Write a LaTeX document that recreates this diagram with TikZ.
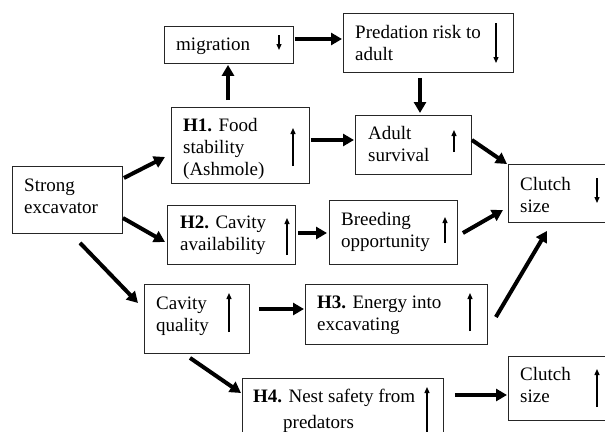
\documentclass[tikz,border=0pt]{standalone}
\usepackage{fontspec}
\setmainfont{Liberation Serif}
\usetikzlibrary{arrows.meta,calc}
\begin{document}
\begin{tikzpicture}[x=1pt,y=-1pt,
  box/.style={draw=black!85,line width=0.9pt,rectangle,inner sep=0pt,anchor=north west},
  txt/.style={inner sep=0pt,anchor=base west,align=left,font=\fontsize{19}{22}\selectfont},
  conn/.style={line width=4pt,-{Triangle[length=11pt,width=12pt]}},
  tinyarr/.style={line width=1.3pt,-{Triangle[length=6pt,width=5pt]}}]
\useasboundingbox (0,0) rectangle (605,431);
% boxes
\node[box,minimum width=110pt,minimum height=67pt] (strong) at (12,166) {};
\node[box,minimum width=129pt,minimum height=37pt] (migr) at (164,26) {};
\node[box,minimum width=170pt,minimum height=59pt] (pred) at (343,13) {};
\node[box,minimum width=138pt,minimum height=76pt] (h1) at (171,107) {};
\node[box,minimum width=116pt,minimum height=59pt] (adult) at (355,115) {};
\node[box,minimum width=120pt,minimum height=58pt] (clA) at (508,164) {};
\node[box,minimum width=128pt,minimum height=59pt] (h2) at (167,205) {};
\node[box,minimum width=128pt,minimum height=64pt] (breed) at (329,200) {};
\node[box,minimum width=105pt,minimum height=69pt] (cavq) at (144,284) {};
\node[box,minimum width=182pt,minimum height=60pt] (h3) at (305,284) {};
\node[box,minimum width=201pt,minimum height=80pt] (h4) at (242,378) {};
\node[box,minimum width=120pt,minimum height=64pt] (clB) at (508,356) {};
% texts (anchor = baseline of the last line)
\node[txt] (strong-t) at (24,213) {Strong\\excavator};
\node[txt] (migr-t) at (176,50) {migration};
\node[txt] (pred-t) at (355,60) {Predation risk to\\adult};
\node[txt] (h1-t) at (183,175) {\textbf{H1.} Food\\stability\\(Ashmole)};
\node[txt] (adult-t) at (368,161) {Adult\\survival};
\node[txt] (clA-t) at (520,212) {Clutch\\size};
\node[txt] (h2-t) at (180,250) {\textbf{H2.} Cavity\\availability};
\node[txt] (breed-t) at (341,247) {Breeding\\opportunity};
\node[txt] (cavq-t) at (156,331) {Cavity\\quality};
\node[txt] (h3-t) at (317,330) {\textbf{H3.} Energy into\\excavating};
\node[txt] (h4-t) at (253,428) {\textbf{H4.} Nest safety from\\[4pt]\hspace*{30pt}predators};
\node[txt] (clB-t) at (520,402) {Clutch\\size};
% small trend arrows
\draw[tinyarr] (279,35) -- (279,50);
\draw[tinyarr] (293,166) -- (293,128);
\draw[tinyarr] (496,23) -- (496,63);
\draw[tinyarr] (454,152) -- (454,130);
\draw[tinyarr] (597,178) -- (597,203);
\draw[tinyarr] (287,255) -- (287,218);
\draw[tinyarr] (445,243) -- (445,217);
\draw[tinyarr] (229,332) -- (229,293);
\draw[tinyarr] (470,331) -- (470,293);
\draw[tinyarr] (427,440) -- (427,387);
\draw[tinyarr] (597,407) -- (597,369);
% connectors
\draw[conn] ($(strong.north east)+(1,12)$) -- ($(h1.north west)+(-6,50)$);
\draw[conn] ($(strong.north east)+(0,52)$) -- ($(h2.north west)+(-2,37)$);
\draw[conn] ($(strong.south west)+(68,9)$) -- ($(cavq.north west)+(-6,19)$);
\draw[conn] ($(h1.north west)+(57,-7)$) -- ($(migr.south west)+(64,1)$);
\draw[conn] ($(migr.north east)+(1,13)$) -- ($(pred.north west)+(-1,26)$);
\draw[conn] ($(pred.south west)+(77,5)$) -- ($(adult.north west)+(65,-2)$);
\draw[conn] ($(h1.north east)+(1,33)$) -- ($(adult.north west)+(-1,25)$);
\draw[conn] ($(adult.north east)+(0,25)$) -- ($(clA.north west)+(-1,0)$);
\draw[conn] ($(h2.north east)+(2,28)$) -- ($(breed.north west)+(-2,33)$);
\draw[conn] ($(breed.north east)+(5,33)$) -- ($(clA.north west)+(-5,46)$);
\draw[conn] ($(cavq.north east)+(9,25)$) -- ($(h3.north west)+(-1,25)$);
\draw[conn] ($(h3.north east)+(8,33)$) -- ($(clA.south west)+(39,8)$);
\draw[conn] ($(cavq.south west)+(46,4)$) -- ($(h4.north west)+(-1,15)$);
\draw[conn] ($(h4.north east)+(11,17)$) -- ($(clB.north west)+(-1,39)$);
\end{tikzpicture}
\end{document}
